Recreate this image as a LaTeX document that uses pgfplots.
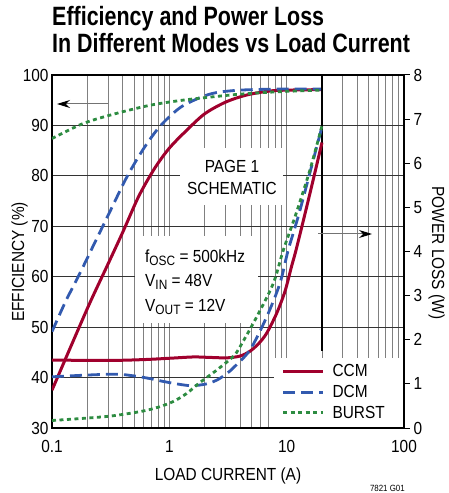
\documentclass[border=0pt]{standalone}
\usepackage{fontspec}
\setmainfont{Liberation Sans}[FakeStretch=0.88]
\newfontfamily\titlefont{Liberation Sans}[FakeStretch=0.81]
\usepackage{pgfplots}
\pgfplotsset{compat=1.18}
\usetikzlibrary{arrows.meta}

\definecolor{ccm}{RGB}{160,0,45}
\definecolor{dcm}{RGB}{50,90,175}
\definecolor{burst}{RGB}{45,140,65}

\newcommand{\lbl}{\fontsize{17.5bp}{20bp}\selectfont}
\newcommand{\sub}[1]{\raisebox{-0.32ex}{\fontsize{13.5bp}{14bp}\selectfont #1}}

% efficiency (%) vs load current (A)
\pgfplotstableread{
x y
0.1 37.5
0.15 47
0.212 55
0.3 62.5
0.404 69
0.55 76
0.75 81.5
1.0 85.5
1.4 89
2.0 92.3
3.0 94.6
4.5 96.0
7 96.8
10 97.0
20 97.1
}\effccm
\pgfplotstableread{
x y
0.1 49.1
0.13 55
0.173 60.7
0.24 67.5
0.316 73.2
0.435 79.8
0.6 85.3
0.83 89.8
1.23 93.5
1.82 95.5
2.5 96.5
4 97.0
8 97.2
20 97.2
}\effdcm
\pgfplotstableread{
x y
0.1 87.4
0.185 90.4
0.356 92.4
0.684 94.0
1.2 94.9
2 95.5
4 96.2
8.8 96.7
20 97.0
}\effburst
% power loss (W) vs load current (A)
\pgfplotstableread{
x y
0.1 1.54
0.3 1.53
0.6 1.55
1.0 1.58
1.6 1.61
2.2 1.60
3.1 1.59
4.0 1.63
4.87 1.74
5.8 1.92
6.76 2.15
8.22 2.6
9.68 3.1
11 3.66
12.2 4.1
15.8 5.32
20 6.47
}\lossccm
\pgfplotstableread{
x y
0.1 1.16
0.2 1.2
0.356 1.22
0.5 1.18
0.684 1.12
0.95 1.04
1.5 0.96
2.08 1.0
2.6 1.1
3.1 1.24
3.5 1.36
4.87 1.77
6.76 2.52
8.77 3.28
10.3 4.03
13 4.94
20 6.83
}\lossdcm
\pgfplotstableread{
x y
0.1 0.17
0.29 0.26
0.56 0.37
0.8 0.47
1.08 0.6
1.4 0.78
1.82 1.03
2.5 1.3
3.5 1.62
4.0 1.84
5.56 2.52
7.7 3.28
9.36 4.03
12 4.85
15.8 5.85
20 6.85
}\lossburst

\begin{document}
\begin{tikzpicture}
\useasboundingbox (-52bp,-65bp) rectangle (397bp,428bp);

\begin{axis}[
  width=352bp, height=353bp, scale only axis,
  xmode=log, xmin=0.1, xmax=100, ymin=30, ymax=100,
  xtick={0.1,1,10,100}, xticklabels={0.1,1,10,100},
  ytick={30,40,...,100},
  xmajorgrids, xminorgrids, ymajorgrids,
  major grid style={black!50, line width=0.9bp},
  minor grid style={black!50, line width=0.9bp},
  y grid style={black!80, line width=0.9bp},
  major tick length=0pt, minor tick length=0pt,
  tick label style={font=\lbl},
  /pgf/number format/assume math mode=true,
  xticklabel style={yshift=-9bp},
  axis line style={line width=1.3bp},
]
\addplot[ccm, line width=3bp, smooth] table {\effccm};
\addplot[dcm, line width=2.8bp, smooth, dash pattern=on 12bp off 6bp] table {\effdcm};
\addplot[burst, line width=2.8bp, smooth, dash pattern=on 4bp off 3.5bp] table {\effburst};
\end{axis}

% the darker grid line at 20 A (stops at the legend)
\draw[black, line width=1.2bp] (270bp,77bp) -- (270bp,353bp);

% white boxes behind the notes
\fill[white] (128bp,223bp) rectangle (231bp,280bp);
\fill[white] (83bp,105bp) rectangle (206bp,192bp);
\node[anchor=base, font=\lbl, inner sep=0] at (180bp,255bp) {PAGE 1};
\node[anchor=base, font=\lbl, inner sep=0] at (180bp,233bp) {SCHEMATIC};
\node[anchor=base west, font=\lbl, inner sep=0] at (93bp,165bp) {f\sub{OSC} = 500kHz};
\node[anchor=base west, font=\lbl, inner sep=0] at (93bp,141bp) {V\sub{IN} = 48V};
\node[anchor=base west, font=\lbl, inner sep=0] at (93bp,116bp) {V\sub{OUT} = 12V};

\begin{axis}[
  width=352bp, height=353bp, scale only axis,
  xmode=log, xmin=0.1, xmax=100, ymin=0, ymax=8,
  axis x line=none, axis y line*=right,
  ytick={0,1,...,8},
  tick align=outside, major tick length=6bp,
  tick style={black, line width=1bp},
  tick label style={font=\lbl},
  /pgf/number format/assume math mode=true,
  axis line style={line width=1.3bp},
  legend style={at={(rel axis cs:0.997,0.003)}, anchor=south east,
    draw=none, fill=white, font=\lbl, inner xsep=8bp, inner ysep=5bp,
    row sep=3bp, column sep=6bp},
  legend cell align=left,
  legend image code/.code={\draw[#1] (0bp,0bp) -- (40bp,0bp);},
]
\addplot[ccm, line width=3bp, smooth] table {\lossccm};
\addlegendentry{CCM}
\addplot[dcm, line width=2.8bp, smooth, dash pattern=on 12bp off 6bp] table {\lossdcm};
\addlegendentry{DCM}
\addplot[burst, line width=2.8bp, smooth, dash pattern=on 4bp off 3.5bp] table {\lossburst};
\addlegendentry{BURST\hspace*{8bp}}
\end{axis}

% arrows telling which axis each family belongs to
\draw[black!55, line width=1bp, -{Stealth[length=13bp,width=8bp,color=black]}] (56bp,324bp) -- (5bp,324bp);
\draw[black!55, line width=1bp, -{Stealth[length=13bp,width=8bp,color=black]}] (266bp,194bp) -- (320bp,194bp);

% titles and axis labels
\node[anchor=base west, inner sep=0, font=\titlefont\bfseries\fontsize{26.5bp}{28bp}\selectfont] at (0bp,402bp) {Efficiency and Power Loss};
\node[anchor=base west, inner sep=0, font=\titlefont\bfseries\fontsize{26.5bp}{28bp}\selectfont] at (0bp,375bp) {In Different Modes vs Load Current};
\node[anchor=base, inner sep=0, font=\lbl] at (176bp,-52bp) {LOAD CURRENT (A)};
\node[anchor=base, inner sep=0, font=\lbl, rotate=90] at (-28bp,166bp) {EFFICIENCY (\%)};
\node[anchor=base, inner sep=0, font=\lbl, rotate=-90] at (380bp,175bp) {POWER LOSS (W)};
\node[anchor=base east, inner sep=0, font=\fontsize{9bp}{10bp}\selectfont] at (353bp,-63bp) {7821 G01};
\end{tikzpicture}
\end{document}
